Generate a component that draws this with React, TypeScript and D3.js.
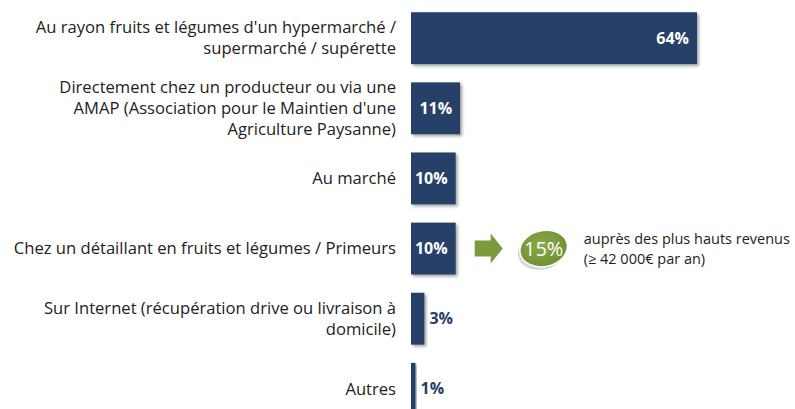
import * as d3 from 'd3';

const categories = [
  ["Au rayon fruits et légumes d'un hypermarché /", 'supermarché / supérette'],
  ['Directement chez un producteur ou via une', "AMAP (Association pour le Maintien d'une", 'Agriculture Paysanne)'],
  ['Au marché'],
  ['Chez un détaillant en fruits et légumes / Primeurs'],
  ['Sur Internet (récupération drive ou livraison à', 'domicile)'],
  ['Autres'],
];
const values = [64, 11, 10, 10, 3, 1];

// call-out next to the "détaillant" row
const calloutRow = 3;
const calloutValue = 15;
const calloutLines = ['auprès des plus hauts revenus', '(≥ 42 000€ par an)'];

const W = 795;
const H = 409;
const NAVY = '#253F68';
const GREEN = '#7A9A3C';
const FONT = '"Open Sans", "DejaVu Sans", sans-serif';

export default function App() {
  const keys = categories.map((_, i) => String(i));
  const y = d3.scaleBand<string>().domain(keys).range([-6, 433]).paddingInner(0.26).paddingOuter(0.26);
  const x = d3.scaleLinear().domain([0, 64]).range([411, 697]);
  const bh = y.bandwidth();
  const lineH = 21;

  const cy = (y(String(calloutRow)) ?? 0) + bh / 2;
  const ax = x(values[calloutRow]) + 19;
  const arrow = d3.path();
  arrow.moveTo(ax, cy - 8);
  arrow.lineTo(ax + 16, cy - 8);
  arrow.lineTo(ax + 16, cy - 15);
  arrow.lineTo(ax + 28, cy);
  arrow.lineTo(ax + 16, cy + 15);
  arrow.lineTo(ax + 16, cy + 8);
  arrow.lineTo(ax, cy + 8);
  arrow.closePath();
  const ex = ax + 69;

  return (
    <svg width={W} height={H} style={{ position: 'absolute', left: 0, top: 0, background: '#fff' }} fontFamily={FONT}>
      <defs>
        <filter id="shadow" x="-10%" y="-10%" width="130%" height="140%">
          <feDropShadow dx="2" dy="2" stdDeviation="1.5" floodColor="#000" floodOpacity="0.35" />
        </filter>
        <radialGradient id="pill" cx="45%" cy="40%" r="65%">
          <stop offset="0%" stopColor="#8AAA48" />
          <stop offset="100%" stopColor="#6E8E32" />
        </radialGradient>
      </defs>

      {categories.map((lines, i) => {
        const c = (y(String(i)) ?? 0) + bh / 2;
        const top = c - ((lines.length - 1) * lineH) / 2;
        return (
          <text key={'l' + i} x={396} textAnchor="end" fontSize={16.6} fill="#222">
            {lines.map((t, j) => (
              <tspan key={j} x={396} y={top + j * lineH} dy="0.35em">{t}</tspan>
            ))}
          </text>
        );
      })}

      {values.map((v, i) => {
        const by = y(String(i)) ?? 0;
        const w = x(v) - x(0);
        const inside = w > 40;
        return (
          <g key={'b' + i}>
            <rect x={x(0)} y={by} width={w} height={bh} fill={NAVY} filter="url(#shadow)" />
            <text
              x={inside ? x(v) - 8 : x(v) + 5}
              y={by + bh / 2}
              dy="0.35em"
              textAnchor={inside ? 'end' : 'start'}
              fontSize={16}
              fontWeight="bold"
              fill={inside ? '#fff' : NAVY}
            >
              {v}%
            </text>
          </g>
        );
      })}

      <path d={arrow.toString()} fill={GREEN} />
      <ellipse cx={ex - 2} cy={cy + 3} rx={24} ry={18} fill="#bbb" opacity={0.6} transform={`rotate(-12 ${ex - 2} ${cy + 3})`} />
      <ellipse cx={ex} cy={cy} rx={24} ry={18} fill="url(#pill)" stroke="#fff" strokeWidth={1.5} transform={`rotate(-12 ${ex} ${cy})`} />
      <text x={ex} y={cy} dy="0.35em" textAnchor="middle" fontSize={20} fill="#fff">{calloutValue}%</text>
      <text fontSize={14.5} fill="#222">
        {calloutLines.map((t, j) => (
          <tspan key={j} x={ex + 40} y={cy - 10 + j * 20} dy="0.35em">{t}</tspan>
        ))}
      </text>
    </svg>
  );
}
